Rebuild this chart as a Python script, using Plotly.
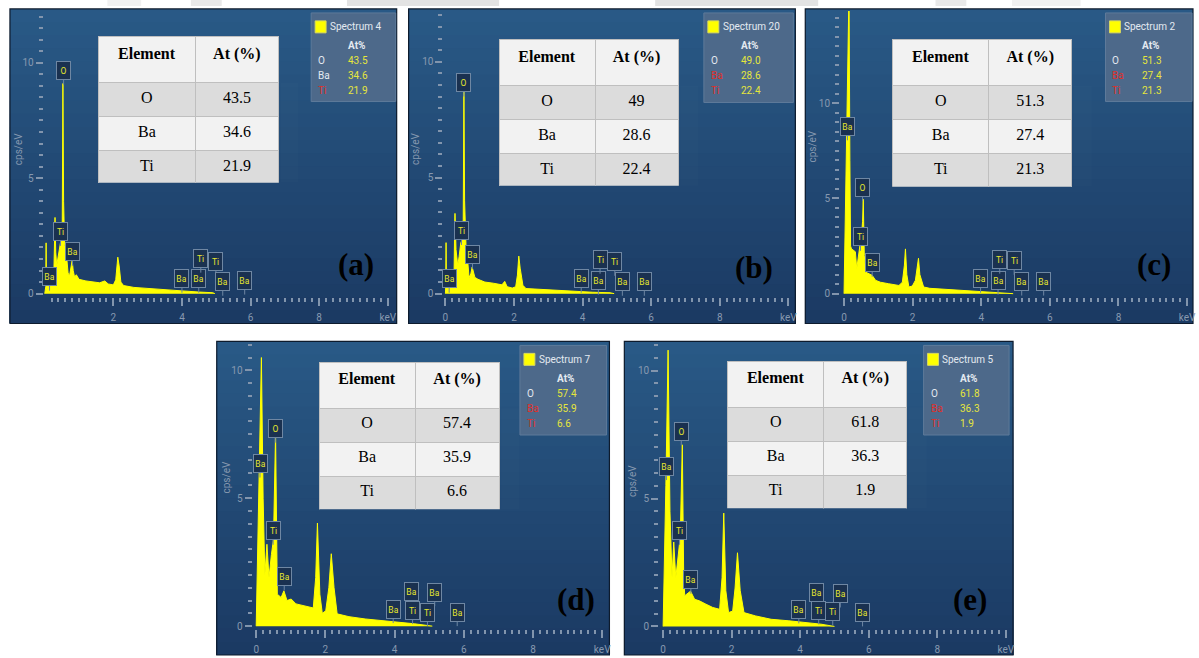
import plotly.graph_objects as go

W, H = 1199, 658

# ---------------- data ----------------
panel_letters = ["(a)", "(b)", "(c)", "(d)", "(e)"]
spectrum_names = ["Spectrum 4", "Spectrum 20", "Spectrum 2", "Spectrum 7", "Spectrum 5"]
elements = ["O", "Ba", "Ti"]
table_at = [["43.5", "34.6", "21.9"], ["49", "28.6", "22.4"], ["51.3", "27.4", "21.3"],
            ["57.4", "35.9", "6.6"], ["61.8", "36.3", "1.9"]]
legend_at = [["43.5", "34.6", "21.9"], ["49.0", "28.6", "22.4"], ["51.3", "27.4", "21.3"],
             ["57.4", "35.9", "6.6"], ["61.8", "36.3", "1.9"]]
legend_red = [[False, False, True], [False, True, True], [False, True, True],
              [False, True, True], [False, True, True]]

energy_a = [0.0, 0.03, 0.04, 0.05, 0.17, 0.26, 0.29, 0.30, 0.32, 0.35, 0.38, 0.43, 0.48, 0.51, 0.53, 0.55,
            0.58, 0.62, 0.68, 0.72, 0.77, 0.80, 0.83, 0.87, 0.92, 1.0, 1.2, 1.4, 1.6, 1.75, 1.85, 2.0, 2.07,
            2.13, 2.17, 2.22, 2.3, 2.6, 3.0, 3.5, 4.0, 4.5, 4.9, 4.96]
cps_a = [0.0, 0.3, 2.2, 0.4, 0.35, 0.5, 2.6, 3.3, 1.8, 1.2, 1.5, 2.0, 2.4, 3.0, 9.1, 4.0,
         2.1, 1.9, 0.9, 0.75, 1.2, 1.45, 1.0, 0.72, 0.82, 0.62, 0.55, 0.5, 0.47, 0.55, 0.42, 0.38, 0.6,
         1.58, 1.2, 0.5, 0.35, 0.27, 0.22, 0.17, 0.12, 0.07, 0.04, 0.0]

energy_b = [0.0, 0.01, 0.02, 0.03, 0.15, 0.25, 0.27, 0.28, 0.31, 0.36, 0.40, 0.45, 0.50, 0.52, 0.54, 0.56,
            0.60, 0.64, 0.69, 0.74, 0.78, 0.82, 0.86, 0.95, 1.15, 1.4, 1.65, 1.73, 1.8, 1.95, 2.05, 2.1,
            2.14, 2.18, 2.26, 2.35, 2.7, 3.2, 3.76, 4.3, 4.8, 4.92]
cps_b = [0.0, 0.3, 2.2, 0.4, 0.35, 0.55, 2.8, 3.46, 1.9, 1.2, 1.6, 2.2, 2.36, 3.2, 8.87, 4.0,
         2.1, 1.6, 0.7, 0.85, 1.15, 0.9, 0.7, 0.62, 0.5, 0.45, 0.38, 0.53, 0.3, 0.24, 0.3, 0.8,
         1.62, 1.1, 0.36, 0.22, 0.19, 0.14, 0.1, 0.06, 0.04, 0.0]

energy_c = [0.0, 0.05, 0.12, 0.145, 0.17, 0.19, 0.22, 0.29, 0.33, 0.37, 0.42, 0.46, 0.5, 0.54, 0.56, 0.59,
            0.63, 0.72, 0.82, 0.92, 1.06, 1.3, 1.45, 1.6, 1.7, 1.76, 1.79, 1.83, 1.89, 1.99, 2.08, 2.13,
            2.17, 2.21, 2.32, 2.5, 3.0, 3.5, 4.0, 4.5, 4.93]
cps_c = [0.0, 5.0, 12.0, 16.0, 7.0, 2.5, 2.35, 2.26, 2.2, 1.3, 2.0, 2.5, 2.8, 3.8, 4.96, 2.0,
         1.13, 1.05, 0.96, 0.7, 0.6, 0.52, 0.47, 0.43, 0.6, 1.5, 2.35, 1.0, 0.35, 0.4, 0.7, 1.3,
         1.86, 1.0, 0.35, 0.28, 0.23, 0.17, 0.11, 0.06, 0.0]

energy_d = [0.0, 0.03, 0.08, 0.15, 0.2, 0.25, 0.31, 0.37, 0.44, 0.5, 0.56, 0.61, 0.72, 0.8, 0.89, 1.01,
            1.15, 1.34, 1.53, 1.65, 1.72, 1.77, 1.84, 1.91, 2.01, 2.1, 2.17, 2.25, 2.34, 2.68, 3.15, 3.63,
            4.1, 4.58, 5.09]
cps_d = [0.0, 2.0, 5.8, 10.5, 5.0, 2.0, 3.2, 1.9, 2.8, 3.4, 7.56, 1.25, 1.12, 1.38, 1.0, 1.06,
         0.87, 0.8, 0.74, 0.71, 1.9, 4.03, 1.25, 0.5, 0.6, 1.5, 2.83, 1.5, 0.48, 0.37, 0.28, 0.22,
         0.15, 0.09, 0.0]

energy_e = [0.0, 0.03, 0.08, 0.145, 0.2, 0.26, 0.31, 0.37, 0.44, 0.5, 0.56, 0.6, 0.63, 0.72, 0.8, 0.92,
            1.06, 1.25, 1.45, 1.65, 1.72, 1.77, 1.83, 1.91, 2.03, 2.1, 2.17, 2.25, 2.36, 2.7, 3.15, 3.67,
            4.15, 4.6, 5.0]
cps_e = [0.0, 1.8, 5.5, 10.8, 4.5, 1.9, 3.3, 1.9, 2.8, 3.5, 7.1, 2.0, 1.2, 1.3, 1.38, 1.06,
         1.0, 0.87, 0.74, 0.67, 1.9, 4.43, 1.4, 0.54, 0.6, 1.5, 2.88, 1.4, 0.54, 0.41, 0.28, 0.22,
         0.16, 0.09, 0.0]

peak_el = ["Ba", "Ti", "O", "Ba", "Ba", "Ba", "Ti", "Ti", "Ba", "Ba"]
peak_kev_a = [0.14, 0.46, 0.55, 0.81, 4.0, 4.49, 4.55, 4.99, 5.19, 5.83]
peak_cps_a = [0.13, 2.07, 9.05, 1.21, 0.04, 0.04, 0.91, 0.78, -0.09, -0.04]
peak_kev_b = [0.11, 0.47, 0.54, 0.79, 3.96, 4.46, 4.51, 4.94, 5.16, 5.8]
peak_cps_b = [0.04, 2.1, 8.5, 1.07, 0.04, -0.04, 0.86, 0.77, -0.09, -0.09]
peak_kev_c = [0.1, 0.48, 0.54, 0.82, 3.98, 4.49, 4.54, 4.96, 5.18, 5.82]
peak_cps_c = [8.05, 2.25, 4.86, 0.89, 0.05, -0.05, 1.05, 0.99, -0.1, -0.1]
peak_kev_d = [0.11, 0.49, 0.55, 0.81, 3.96, 4.49, 4.52, 4.95, 5.16, 5.81]
peak_cps_d = [5.81, 3.18, 7.17, 1.4, 0.12, 0.81, 0.08, 0.0, 0.78, 0.0]
peak_kev_e = [0.1, 0.48, 0.53, 0.81, 3.96, 4.48, 4.54, 4.95, 5.17, 5.82]
peak_cps_e = [5.72, 3.19, 7.08, 1.28, 0.12, 0.78, 0.08, 0.04, 0.74, 0.0]

x_tickvals_first = [2, 4, 6, 8, 10]
x_tickvals = [0, 2, 4, 6, 8, 10]
y_tickvals = [0, 5, 10]

energies = [energy_a, energy_b, energy_c, energy_d, energy_e]
cpss = [cps_a, cps_b, cps_c, cps_d, cps_e]
peak_kevs = [peak_kev_a, peak_kev_b, peak_kev_c, peak_kev_d, peak_kev_e]
peak_cpss = [peak_cps_a, peak_cps_b, peak_cps_c, peak_cps_d, peak_cps_e]

# ---------------- layout geometry (pixels) ----------------
panels = [
    dict(x0=44, kpx=34.5, zero=295, ypx=23.2, left=43, right=395, top=13, frame=(9, 9, 398, 325),
         table=(98, 37, 280, 184, 196), leg=(312, 13, 397, 102), letter=(357, 266), ytitle=(17, 150)),
    dict(x0=447, kpx=34.5, zero=295, ypx=23.3, left=445, right=797, top=13, frame=(410, 9, 799, 325),
         table=(501, 40, 682, 187, 598), leg=(707, 13, 797, 103), letter=(757, 269), ytitle=(417, 150)),
    dict(x0=848, kpx=34.5, zero=295, ypx=19.13, left=844, right=1197, top=11, frame=(809, 9, 1199, 325),
         table=(897, 40, 1078, 188, 994), leg=(1111, 13, 1198, 102), letter=(1160, 266), ytitle=(816, 147)),
    dict(x0=256.7, kpx=34.8, zero=629, ypx=25.7, left=253, right=609, top=345, frame=(217, 343, 612, 658),
         table=(320, 364, 502, 512, 417), leg=(522, 347, 609, 437), letter=(578, 602), ytitle=(227, 480)),
    dict(x0=666, kpx=34.47, zero=629.3, ypx=25.7, left=662, right=1014, top=345, frame=(627, 343, 1018, 658),
         table=(731, 363, 912, 511, 828), leg=(928, 347, 1014, 437), letter=(975, 602), ytitle=(636, 483)),
]


def px(x):
    return x / W


def py(y):
    return 1 - y / H


tick_col = "#8295ad"
label_col = "#8799b0"
yellow = "#ffff00"

fig = go.Figure()
shapes = []
annotations = []
layout_axes = {}

top_col = (41, 89, 134)
bot_col = (27, 58, 99)
nb = 24

# faint watermark blobs above the top row
for wx0, wx1, wcol in [(107, 141, "#f1f1f1"), (191, 222, "#e9e9e9"), (348, 501, "#e3e3e3"),
                       (658, 822, "#e3e3e3"), (940, 971, "#e9e9e9"), (1017, 1086, "#f1f1f1")]:
    shapes.append(dict(type="rect", xref="paper", yref="paper", x0=px(wx0), x1=px(wx1),
                       y0=py(6), y1=py(0), fillcolor=wcol, line=dict(width=0), layer="below"))

for i, p in enumerate(panels):
    fx0, fy0, fx1, fy1 = p["frame"]
    # gradient background: stacked bands, each reaching the panel bottom (no seams)
    for b in range(nb):
        t = b / (nb - 1)
        c = tuple(int(round(top_col[k] + (bot_col[k] - top_col[k]) * t)) for k in range(3))
        y_a = fy0 + (fy1 - fy0) * b / nb
        shapes.append(dict(type="rect", xref="paper", yref="paper", x0=px(fx0), x1=px(fx1),
                           y0=py(fy1), y1=py(y_a), fillcolor="rgb(%d,%d,%d)" % c,
                           line=dict(width=0), layer="below"))
    shapes.append(dict(type="rect", xref="paper", yref="paper", x0=px(fx0), x1=px(fx1),
                       y0=py(fy1), y1=py(fy0), line=dict(color="#0d1b2d", width=1.2), layer="below"))

    n = "" if i == 0 else str(i + 1)
    bottom = p["zero"] + 3
    xr = [(p["left"] - p["x0"]) / p["kpx"], (p["right"] - p["x0"]) / p["kpx"]]
    yr = [(p["zero"] - bottom) / p["ypx"], (p["zero"] - p["top"]) / p["ypx"]]
    xt = x_tickvals_first if i == 0 else x_tickvals
    xtt = [str(v) if v < 10 else "keV" for v in xt]
    ymax = yr[1]
    layout_axes["xaxis" + n] = dict(
        domain=[px(p["left"]), px(p["right"])], range=xr, anchor="y" + n,
        showgrid=False, zeroline=False, showline=False,
        tickmode="array", tickvals=xt, ticktext=xtt, ticks="outside", ticklen=8, tickwidth=2,
        ticklabelstandoff=3,
        tickcolor=tick_col, tickfont=dict(family="Roboto", size=10, color=label_col),
        minor=dict(tickmode="array", tickvals=[round(0.2 * k, 1) for k in range(1 if i == 0 else 0, 51)],
                   ticks="outside", ticklen=4, tickwidth=2, tickcolor=tick_col, showgrid=False),
        fixedrange=True)
    layout_axes["yaxis" + n] = dict(
        domain=[py(bottom), py(p["top"])], range=yr, anchor="x" + n,
        showgrid=False, zeroline=False, showline=False,
        tickmode="array", tickvals=y_tickvals, ticks="outside", ticklen=7, tickwidth=2,
        tickcolor=tick_col, tickfont=dict(family="Roboto", size=10, color=label_col),
        minor=dict(tickmode="array", tickvals=[0.5 * k for k in range(0, int(ymax / 0.5) + 1)],
                   ticks="outside", ticklen=4, tickwidth=2, tickcolor=tick_col, showgrid=False),
        fixedrange=True)

    fig.add_trace(go.Scatter(x=energies[i], y=cpss[i], mode="lines", fill="tozeroy",
                             fillcolor=yellow, line=dict(color=yellow, width=1),
                             xaxis="x" + n, yaxis="y" + n, showlegend=False, hoverinfo="skip"))

    # peak labels
    for el, kv, cv in zip(peak_el, peak_kevs[i], peak_cpss[i]):
        annotations.append(dict(x=kv, y=cv, xref="x" + n, yref="y" + n, text=el,
                                showarrow=True, arrowhead=0, arrowwidth=1, arrowcolor="#6f87a3",
                                ax=0, ay=-14, bgcolor="#1a3150", bordercolor="#6f87a3", borderwidth=1,
                                borderpad=1, width=11, height=15,
                                font=dict(family="Roboto", size=8.5, color="#e6e62e")))

    # y title
    annotations.append(dict(x=px(p["ytitle"][0]), y=py(p["ytitle"][1]), xref="paper", yref="paper",
                            xanchor="center", yanchor="middle",
                            text="cps/eV", showarrow=False, textangle=-90,
                            font=dict(family="Roboto", size=10, color=label_col)))

    # table
    tx0, ty0, tx1, ty1, tsplit = p["table"]
    fig.add_trace(go.Table(
        domain=dict(x=[px(tx0), px(tx1)], y=[py(ty1), py(ty0)]),
        columnwidth=[tsplit - tx0, tx1 - tsplit],
        header=dict(values=["<b>Element</b>", "<b>At (%)</b>"], height=46, fill_color="#f2f2f2",
                    line_color="#bfbfbf", align="center",
                    font=dict(family="Liberation Serif", size=16, color="black")),
        cells=dict(values=[elements, table_at[i]], height=34,
                   fill_color=[["#dcdcdc", "#f2f2f2", "#dcdcdc"]] * 2,
                   line_color="#bfbfbf", align="center",
                   font=dict(family="Liberation Serif", size=16, color="black"))))

    # legend box
    bx0, by0, bx1, by1 = p["leg"]
    shapes.append(dict(type="rect", xref="paper", yref="paper", x0=px(bx0), x1=px(bx1),
                       y0=py(by1), y1=py(by0), fillcolor="#4d698a", line=dict(color="#5e7a9a", width=1)))
    shapes.append(dict(type="rect", xref="paper", yref="paper", x0=px(bx0 + 4), x1=px(bx0 + 15),
                       y0=py(by0 + 20), y1=py(by0 + 8), fillcolor=yellow, line=dict(color="#d8d860", width=1)))
    annotations.append(dict(x=px(bx0 + 17), y=py(by0 + 14), xref="paper", yref="paper",
                            xanchor="left", yanchor="middle", text=spectrum_names[i], showarrow=False,
                            font=dict(family="Roboto", size=10, color="#e4eaf1")))
    annotations.append(dict(x=px(bx0 + 35), y=py(by0 + 33), xref="paper", yref="paper",
                            xanchor="left", yanchor="middle", text="<b>At%</b>", showarrow=False,
                            font=dict(family="Roboto", size=10, color="#e4eaf1")))
    for r, (el, val, red) in enumerate(zip(elements, legend_at[i], legend_red[i])):
        yy = by0 + 48 + 15 * r
        annotations.append(dict(x=px(bx0 + 5), y=py(yy), xref="paper", yref="paper",
                                xanchor="left", yanchor="middle", text=el, showarrow=False,
                                font=dict(family="Roboto", size=10, color="#e03028" if red else "#e4eaf1")))
        annotations.append(dict(x=px(bx0 + 35), y=py(yy), xref="paper", yref="paper",
                                xanchor="left", yanchor="middle", text=val, showarrow=False,
                                font=dict(family="Roboto", size=10, color="#e6e63c")))

    # panel letter
    annotations.append(dict(x=px(p["letter"][0]), y=py(p["letter"][1]), xref="paper", yref="paper",
                            xanchor="center", yanchor="middle",
                            text="<b>%s</b>" % panel_letters[i], showarrow=False,
                            font=dict(family="Liberation Serif", size=31, color="black")))

fig.update_layout(width=W, height=H, margin=dict(l=0, r=0, t=0, b=0), autosize=False,
                  paper_bgcolor="white", plot_bgcolor="rgba(0,0,0,0)",
                  shapes=shapes, annotations=annotations, showlegend=False, **layout_axes)

fig.write_html("out.html", config={"displayModeBar": False})
